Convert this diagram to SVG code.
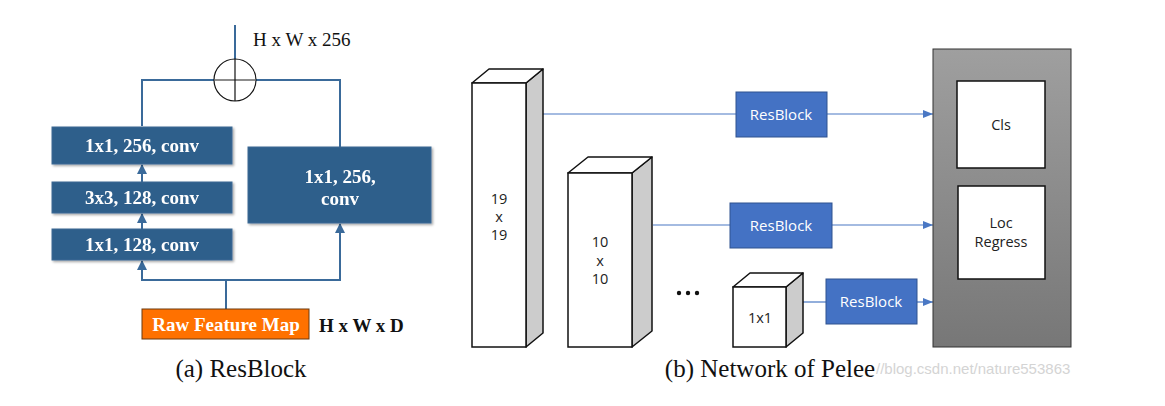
<svg xmlns="http://www.w3.org/2000/svg" width="1165" height="406" viewBox="0 0 1165 406">
<style>
.blk{fill:#2f5f8b;stroke:#3d6a94;stroke-width:1}
.bt{font-family:"Liberation Serif",serif;font-weight:bold;font-size:19px;fill:#fff;text-anchor:middle}
.lbl{font-family:"Liberation Serif",serif;font-size:19px;fill:#111}
.cap{font-family:"Liberation Serif",serif;font-size:25px;fill:#111;text-anchor:middle}
.ln{fill:none;stroke:#3a6a9a;stroke-width:2}
.rl{fill:none;stroke:#4a78c4;stroke-width:1.2}
.rb{fill:#4472c4;stroke:#2f528f;stroke-width:1}
.rbt{font-family:"Open Sans",sans-serif;font-size:15px;fill:#fff;text-anchor:middle}
.st{font-family:"Open Sans",sans-serif;font-size:14.5px;fill:#222;text-anchor:middle}
.front{fill:#fff;stroke:#111;stroke-width:1.5}
.side{fill:#cccccc;stroke:#111;stroke-width:1.5;stroke-linejoin:round}
.top{fill:#fff;stroke:#111;stroke-width:1.5;stroke-linejoin:round}
</style>
<defs>
<marker id="au" markerWidth="10" markerHeight="10" refX="9" refY="5" orient="auto" markerUnits="userSpaceOnUse" viewBox="0 0 10 10">
<path d="M0,0 L10,5 L0,10 Z" fill="#3a6a9a"/>
</marker>
<marker id="ar" markerWidth="10" markerHeight="8" refX="10" refY="4" orient="auto" markerUnits="userSpaceOnUse" viewBox="0 0 10 8">
<path d="M0,0 L10,4 L0,8 Z" fill="#4a78c4"/>
</marker>
<linearGradient id="gg" x1="0" y1="0" x2="0" y2="1">
<stop offset="0" stop-color="#9f9f9f"/>
<stop offset="1" stop-color="#777777"/>
</linearGradient>
<filter id="sh" x="-5%" y="-10%" width="115%" height="130%">
<feDropShadow dx="1.5" dy="1.5" stdDeviation="1" flood-color="#000" flood-opacity="0.35"/>
</filter>
</defs>

<g id="connectors">
<line class="ln" x1="235" y1="25" x2="235" y2="59"/>
<path class="ln" d="M142,126 V80 H214"/>
<path class="ln" d="M256,80 H340 V147"/>
<line class="ln" x1="142" y1="182" x2="142" y2="165" marker-end="url(#au)"/>
<line class="ln" x1="142" y1="229" x2="142" y2="214" marker-end="url(#au)"/>
<path class="ln" d="M226,309 V280 H142 V261" marker-end="url(#au)"/>
<path class="ln" d="M226,280 H340 V224" marker-end="url(#au)"/>
<line class="rl" x1="543" y1="114" x2="736" y2="114"/>
<line class="rl" x1="827" y1="114" x2="933" y2="114" marker-end="url(#ar)"/>
<line class="rl" x1="653" y1="225" x2="730" y2="225"/>
<line class="rl" x1="832" y1="225" x2="933" y2="225" marker-end="url(#ar)"/>
<line class="rl" x1="803" y1="302" x2="826" y2="302"/>
<line class="rl" x1="917" y1="302" x2="933" y2="302" marker-end="url(#ar)"/>
</g>

<g id="add">
<circle cx="235" cy="80" r="21" fill="none" stroke="#111" stroke-width="1.2"/>
<line x1="214" y1="80" x2="256" y2="80" stroke="#666" stroke-width="1.5"/>
<line x1="235" y1="59" x2="235" y2="101" stroke="#111" stroke-width="1.2"/>
</g>
<text class="lbl" x="253" y="46">H x W x 256</text>

<g id="conv1" filter="url(#sh)">
<rect class="blk" x="52" y="127" width="180" height="37"/>
<text class="bt" x="142" y="152">1x1, 256, conv</text>
</g>
<g id="conv2" filter="url(#sh)">
<rect class="blk" x="52" y="182" width="180" height="31"/>
<text class="bt" x="142" y="204">3x3, 128,  conv</text>
</g>
<g id="conv3" filter="url(#sh)">
<rect class="blk" x="52" y="229" width="180" height="31"/>
<text class="bt" x="142" y="251">1x1, 128, conv</text>
</g>
<g id="convR" filter="url(#sh)">
<rect class="blk" x="248" y="147" width="183" height="76"/>
<text class="bt" x="340" y="183">1x1, 256,</text>
<text class="bt" x="340" y="205">conv</text>
</g>
<g id="raw">
<rect x="142" y="309" width="167" height="30" fill="#ff7100" stroke="#6a3a10" stroke-width="1"/>
<text class="bt" x="226" y="331">Raw Feature Map</text>
</g>
<text class="lbl" x="319" y="332" font-weight="bold">H x W x D</text>
<text class="cap" x="241" y="377">(a) ResBlock</text>

<g id="f19">
<polygon class="side" points="526,83 543,69 543,333 526,347"/>
<polygon class="top" points="472,83 489,69 543,69 526,83"/>
<rect class="front" x="472" y="83" width="54" height="264"/>
<text class="st" x="499" y="204">19</text>
<text class="st" x="499" y="222">x</text>
<text class="st" x="499" y="240">19</text>
</g>
<g id="f10">
<polygon class="side" points="632,173 652,157 652,331 632,347"/>
<polygon class="top" points="568,173 588,157 652,157 632,173"/>
<rect class="front" x="568" y="173" width="64" height="174"/>
<text class="st" x="600" y="247">10</text>
<text class="st" x="600" y="266">x</text>
<text class="st" x="600" y="284">10</text>
</g>
<g id="dots" fill="#111">
<circle cx="679" cy="293" r="2.2"/>
<circle cx="688" cy="293" r="2.2"/>
<circle cx="697" cy="293" r="2.2"/>
</g>
<g id="f1">
<polygon class="side" points="786,287 803,273 803,333 786,347"/>
<polygon class="top" points="733,287 750,273 803,273 786,287"/>
<rect class="front" x="733" y="287" width="53" height="60"/>
<text class="st" x="760" y="323">1x1</text>
</g>

<g id="rb1">
<rect class="rb" x="736" y="92" width="91" height="45"/>
<text class="rbt" x="781" y="120">ResBlock</text>
</g>
<g id="rb2">
<rect class="rb" x="730" y="203" width="102" height="45"/>
<text class="rbt" x="781" y="231">ResBlock</text>
</g>
<g id="rb3">
<rect class="rb" x="826" y="279" width="91" height="45"/>
<text class="rbt" x="871" y="307">ResBlock</text>
</g>

<g id="head">
<rect x="933" y="49" width="138" height="298" fill="url(#gg)" stroke="#333" stroke-width="1"/>
<rect x="957" y="81" width="88" height="87" fill="#fff" stroke="#111" stroke-width="1.5"/>
<text class="st" x="1001" y="130">Cls</text>
<rect x="958" y="186" width="87" height="93" fill="#fff" stroke="#111" stroke-width="1.5"/>
<text class="st" x="1001" y="228">Loc</text>
<text class="st" x="1001" y="247">Regress</text>
</g>

<text class="cap" x="770" y="377">(b) Network of Pelee</text>
<text x="876" y="374" font-family="Liberation Sans,sans-serif" font-size="15px" fill="#d4d4d4">//blog.csdn.net/nature553863</text>
</svg>
